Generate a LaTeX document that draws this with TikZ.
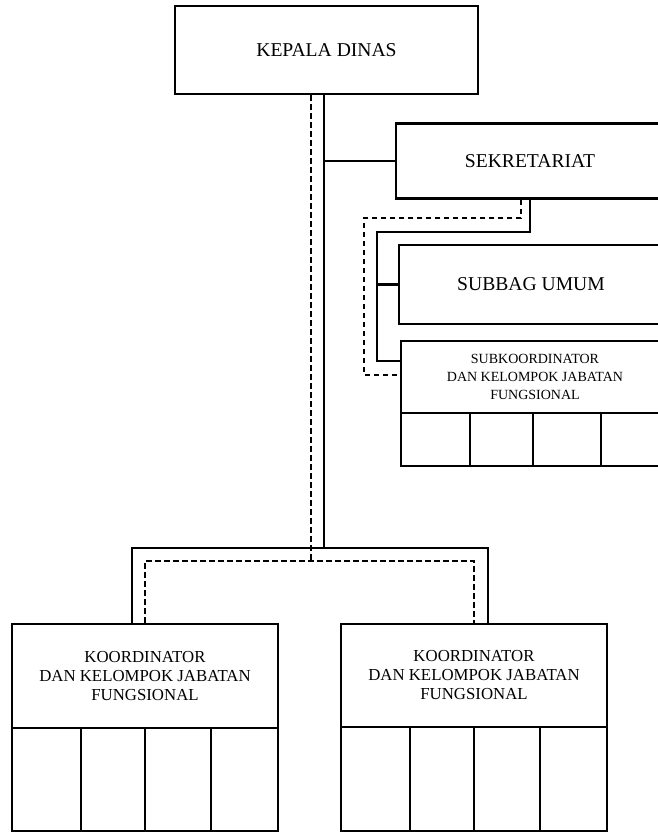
\documentclass[tikz,border=0pt]{standalone}
\usepackage{fontspec}
\setmainfont{Liberation Serif}
\begin{document}
\begin{tikzpicture}[x=1pt,y=-1pt,
  box/.style={draw=black, line width=2.5pt, inner sep=0pt, align=center, text=black},
  cellline/.style={draw=black, line width=2.5pt},
  conn/.style={draw=black, line width=2.5pt},
  dconn/.style={draw=black, line width=2.3pt, dash pattern=on 5.5pt off 3.5pt},
  bigfont/.style={font=\fontsize{19.6}{24}\selectfont},
  midfont/.style={font=\fontsize{16.8}{19}\selectfont},
  smallfont/.style={font=\fontsize{14}{18}\selectfont}]
\useasboundingbox (0,0) rectangle (658,832);
\clip (0,0) rectangle (658,832);

% boxes
\node[box, bigfont, minimum width=303pt, minimum height=88pt] (kepala) at (326.5,50) {KEPALA DINAS};
\node[box, bigfont, minimum width=268pt, minimum height=75pt] (sekre) at (530,161) {SEKRETARIAT};
\node[box, bigfont, minimum width=264pt, minimum height=79pt] (subbag) at (531,284.5) {SUBBAG UMUM};
\node[box, smallfont, minimum width=268pt, minimum height=72pt] (subk) at (535,377) {SUBKOORDINATOR\\DAN KELOMPOK JABATAN\\FUNGSIONAL};
\node[box, midfont, minimum width=266pt, minimum height=104pt] (koorL) at (145,676) {KOORDINATOR\\DAN KELOMPOK JABATAN\\FUNGSIONAL};
\node[box, midfont, minimum width=266pt, minimum height=103pt] (koorR) at (474,675.5) {KOORDINATOR\\DAN KELOMPOK JABATAN\\FUNGSIONAL};

% cells
\draw[cellline] (401,413) rectangle (669,466);
\foreach \x in {470,533,601} \draw[cellline] (\x,413) -- (\x,466);
\draw[cellline] (12,728) rectangle (278,831);
\foreach \x in {81,145,211} \draw[cellline] (\x,728) -- (\x,831);
\draw[cellline] (341,727) rectangle (607,831);
\foreach \x in {410,474,540} \draw[cellline] (\x,727) -- (\x,831);

% coordinates
\coordinate (xs) at (324,0);
\coordinate (xd) at (311,0);
\coordinate (busS) at (324,548);
\coordinate (lS) at (132,548);
\coordinate (rS) at (488,548);
\coordinate (lD) at (145,561);
\coordinate (rD) at (474,561);
\coordinate (s1) at (530,232);
\coordinate (s2) at (377,232);
\coordinate (s3) at (377,361);
\coordinate (d1) at (521,218);
\coordinate (d2) at (364,218);
\coordinate (d3) at (364,375);

% main connectors
\draw[conn] (kepala.south -| xs) -- (busS);
\draw[conn] (xs |- sekre.west) -- (sekre.west);
\draw[conn] (koorL.north -| lS) |- (rS) -- (koorR.north -| rS);
\draw[dconn] (kepala.south -| xd) -- (xd |- lD);
\draw[dconn] (koorL.north -| lD) |- (rD) -- (koorR.north -| rD);

% secretariat subtree
\draw[conn] (sekre.south -| s1) -- (s1) -- (s2) -- (s3) -- (subk.west |- s3);
\draw[conn] (s2 |- subbag.west) -- (subbag.west);
\draw[dconn] (sekre.south -| d1) -- (d1) -- (d2) -- (d3) -- (subk.west |- d3);
\end{tikzpicture}
\end{document}
